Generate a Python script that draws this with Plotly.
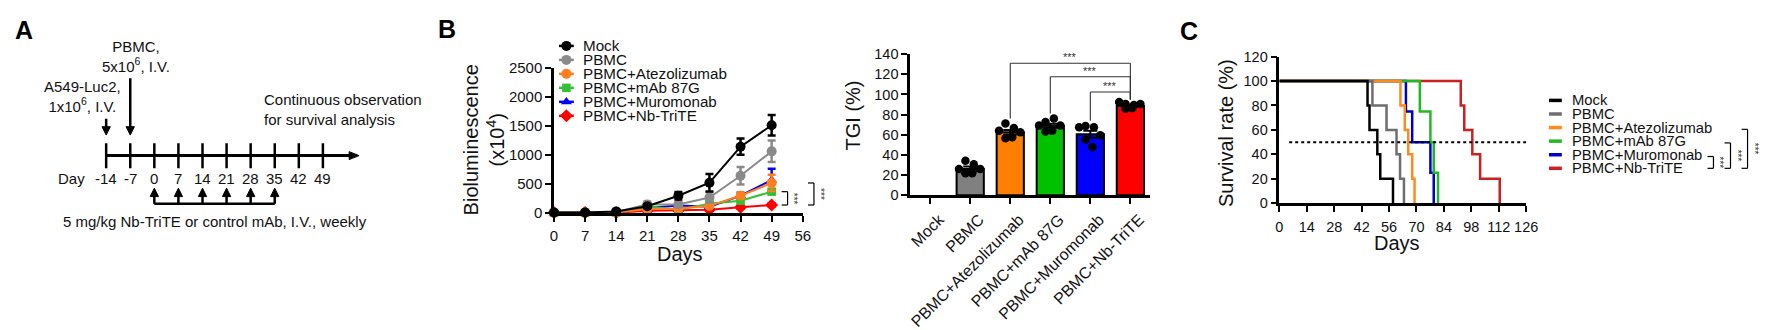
import plotly.graph_objects as go

W, H = 1776, 330
FONT = "Arial, 'Liberation Sans', Helvetica, sans-serif"
TXT = "#111111"

# ---------------- Panel A: treatment schedule ----------------
timeline_days = [-14, -7, 0, 7, 14, 21, 28, 35, 42, 49]
dosing_days = [0, 7, 14, 21, 28, 35]
tumor_day = -14
pbmc_day = -7

# ---------------- Panel B: bioluminescence ----------------
group_names = ["Mock", "PBMC", "PBMC+Atezolizumab", "PBMC+mAb 87G",
               "PBMC+Muromonab", "PBMC+Nb-TriTE"]
bli_days = [0, 7, 14, 21, 28, 35, 42, 49]
bli_mock = [10, 10, 30, 120, 300, 525, 1145, 1515]
bli_mock_sem = [5, 5, 10, 30, 65, 150, 140, 175]
bli_pbmc = [10, 10, 20, 150, 150, 270, 645, 1065]
bli_pbmc_sem = [5, 5, 10, 50, 40, 90, 150, 185]
bli_atezo = [5, 5, 10, 70, 80, 125, 300, 520]
bli_atezo_sem = [5, 5, 5, 30, 30, 30, 50, 140]
bli_mab87g = [5, 5, 10, 120, 60, 160, 215, 370]
bli_mab87g_sem = [5, 5, 5, 40, 30, 30, 40, 40]
bli_muro = [0, 0, 5, 90, 130, 110, 300, 570]
bli_muro_sem = [5, 5, 5, 30, 40, 30, 50, 195]
bli_nb = [10, 10, 5, 40, 45, 60, 100, 140]
bli_nb_sem = [5, 5, 5, 15, 20, 20, 25, 30]

# ---------------- Panel B: TGI ----------------
tgi_mean = [None, 26, 62.5, 69, 60.5, 88.5]
tgi_sem = [0, 2.5, 2.2, 2.0, 3.5, 1.0]
tgi_pbmc = [34.3, 30.8, 26.1, 26.1, 21.8, 21.8]
tgi_atezo = [71.2, 66.8, 63.9, 62.4, 56.6, 57.5]
tgi_mab87g = [72.6, 76.1, 69.1, 69.1, 63.3, 63.9]
tgi_muro = [68.8, 67.4, 67.4, 59.5, 55.2, 47.9]
tgi_nb = [90.6, 89.5, 92.4, 90.6, 85.7, 86.5]
tgi_comparisons = [(2, 5), (3, 5), (4, 5)]
tgi_bracket_levels = [131, 117.5, 102.5]

# ---------------- Panel C: survival ----------------
surv_mock_days = [45, 46, 50, 51.5, 58]
surv_mock_pct = [80, 60, 40, 20, 0]
surv_pbmc_days = [47.5, 54.7, 59.8, 61.6, 63.6]
surv_pbmc_pct = [80, 60, 40, 20, 0]
surv_atezo_days = [61.8, 64, 65.8, 67.8, 69]
surv_atezo_pct = [80, 60, 40, 20, 0]
surv_mab87g_days = [71.7, 77.1, 78.8, 81]
surv_mab87g_pct = [75, 50, 25, 0]
surv_muro_days = [64.6, 67.8, 77.1, 78.8]
surv_muro_pct = [75, 50, 25, 0]
surv_nb_days = [92.6, 94.4, 98.5, 102.5, 112.5]
surv_nb_pct = [80, 60, 40, 20, 0]
surv_comparisons = [(4, 5), (3, 5), (2, 5)]

# ---------------- styles ----------------
LINE_COLORS = ["#000000", "#8A8A8A", "#FF7F1E", "#33C033", "#0000FF", "#FF0000"]
BAR_COLORS = [None, "#808080", "#FF8000", "#00C000", "#0000FF", "#FF0000"]
SURV_COLORS = ["#000000", "#6E6E6E", "#FF8C1A", "#22B822", "#0000CC", "#CC1F1F"]
SYMBOLS = ["circle", "circle", "circle", "square", "triangle-up", "diamond"]
MSIZES = [10, 10, 10, 8.5, 9.5, 10]
JITTER = [-0.12, 0.09, -0.28, 0.25, -0.12, 0.05]

# pixel geometry of each panel
B_X = (555, 806); B_Y = (230.7, 66.8)       # line chart: (x0,x1) , (y bottom, y top)
T_X = (914.4, 1156.8); T_Y = (210.5, 51)      # bar chart
S_X = (1287, 1536); S_Y = (219.5, 53.8)       # survival
A_DAY0_PX = 151.7; A_PX_PER_DAY = 24.3 / 7    # schedule
A_W = 420

def dom_x(p): return [p[0] / W, p[1] / W]
def dom_y(p): return [(H - p[0]) / H, (H - p[1]) / H]

fig = go.Figure()
shapes = []
ann = []

def text(x, y, s, size=15, xanchor="center", yanchor="middle", angle=0, xref="x5", yref="y5",
         color=TXT, bold=False, align="center"):
    ann.append(dict(x=x, y=y, xref=xref, yref=yref, text=s, showarrow=False,
                    xanchor=xanchor, yanchor=yanchor, textangle=angle, align=align,
                    font=dict(family=FONT, size=size, color=color,
                              weight="bold" if bold else "normal")))

def seg(x0, y0, x1, y1, xref="x5", yref="y5", w=2.5, color="#000", dash="solid"):
    shapes.append(dict(type="line", x0=x0, y0=y0, x1=x1, y1=y1, xref=xref, yref=yref,
                       line=dict(color=color, width=w, dash=dash)))

def tri(pts, xref, yref):
    p = "M " + " L ".join(f"{x},{y}" for x, y in pts) + " Z"
    shapes.append(dict(type="path", path=p, xref=xref, yref=yref,
                       fillcolor="#000", line=dict(color="#000", width=1)))

# ================= Panel A =================
dpx = 1 / A_PX_PER_DAY   # days per pixel
TL_Y = 165.7
tip_day = (358.3 - A_DAY0_PX) * dpx
seg(timeline_days[0], TL_Y, tip_day - 6 * dpx, TL_Y, "x4", "y4", w=3)
tri([(tip_day, TL_Y), (tip_day - 10 * dpx, TL_Y - 4.5), (tip_day - 10 * dpx, TL_Y + 4.5)], "x4", "y4")
for d in timeline_days:
    seg(d, 151.7, d, 180, "x4", "y4", w=2.5)
    text(d, 191.7, str(d), xref="x4", yref="y4")
text(68.3, 191.7, "Day")
# injection arrows (down)
for d, ytop in [(tumor_day, 124), (pbmc_day, 78.3)]:
    seg(d, ytop, d, 134, "x4", "y4", w=2.5)
    tri([(d, 142.5), (d - 4.2 * dpx, 133), (d + 4.2 * dpx, 133)], "x4", "y4")
# dosing arrows (up)
seg(dosing_days[0], 220, dosing_days[-1], 220, "x4", "y4", w=2.5)
for d in dosing_days:
    seg(d, 220, d, 210, "x4", "y4", w=2.5)
    tri([(d, 202.5), (d - 4.2 * dpx, 212), (d + 4.2 * dpx, 212)], "x4", "y4")
text(133.3, 53.3, "PBMC,<br>5x10<sup>6</sup>, I.V.")
text(79.3, 98.8, "A549-Luc2,<br>1x10<sup>6</sup>, I.V.")
text(260, 114, "Continuous observation<br>for survival analysis", xanchor="left", align="left")
text(213.3, 240.7, "5 mg/kg Nb-TriTE or control mAb, I.V., weekly")

# panel letters
text(20, 24, "A", size=25, bold=True, color="#000")
text(447.5, 23, "B", size=25, bold=True, color="#000")
text(1196, 25, "C", size=25, bold=True, color="#000")

# ================= Panel B: line chart =================
bli_series = [bli_mock, bli_pbmc, bli_atezo, bli_mab87g, bli_muro, bli_nb]
bli_sems = [bli_mock_sem, bli_pbmc_sem, bli_atezo_sem, bli_mab87g_sem, bli_muro_sem, bli_nb_sem]
for i in reversed(range(6)):
    fig.add_trace(go.Scatter(
        x=bli_days, y=bli_series[i], mode="lines+markers", cliponaxis=False,
        line=dict(color=LINE_COLORS[i], width=2),
        marker=dict(symbol=SYMBOLS[i], size=MSIZES[i], color=LINE_COLORS[i]),
        error_y=dict(type="data", array=bli_sems[i], color=LINE_COLORS[i], thickness=2.5, width=4),
        xaxis="x", yaxis="y", showlegend=False, name=group_names[i]))

# custom compact legend (line glyph + marker glyph + text)
LB_Y0, LB_DY = 41.7, 15.8
for i, name in enumerate(group_names):
    yy = LB_Y0 + i * LB_DY
    seg(560, yy, 575, yy, w=2.5, color=LINE_COLORS[i])
    fig.add_trace(go.Scatter(x=[567.5], y=[yy], mode="markers",
                             marker=dict(symbol=SYMBOLS[i], size=MSIZES[i], color=LINE_COLORS[i]),
                             xaxis="x5", yaxis="y5", showlegend=False, hoverinfo="skip"))
    text(582, yy, name, size=15.2, xanchor="left")

def bpx(v):
    return B_Y[0] - v / 2500 * (B_Y[0] - B_Y[1])

# significance brackets at day 49
for (ga, gb), xv in [((3, 5), 790.7), ((2, 5), 817.3)]:
    ya, yb = bpx(bli_series[ga][-1]), bpx(bli_series[gb][-1])
    seg(xv, ya, xv, yb, w=1.2)
    seg(xv - 6, ya, xv, ya, w=1.2)
    seg(xv - 6, yb, xv, yb, w=1.2)
    text(xv + 6, (ya + yb) / 2, "***", size=10, angle=90, color="#333")

text(484.8, 148, "Bioluminescence<br>(x10<sup>4</sup>)", size=20, angle=-90)
text(682, 277, "Days", size=20)

# ================= Panel B: TGI bars =================
fig.add_trace(go.Bar(x=list(range(6)), y=tgi_mean, width=0.68,
                     marker=dict(color=[c or "#fff" for c in BAR_COLORS], line=dict(color="#000", width=2)),
                     error_y=dict(type="data", array=tgi_sem, color="#000", thickness=2, width=7),
                     xaxis="x2", yaxis="y2", showlegend=False))
tgi_points = [None, tgi_pbmc, tgi_atezo, tgi_mab87g, tgi_muro, tgi_nb]
for i, pts in enumerate(tgi_points):
    if pts is None:
        continue
    fig.add_trace(go.Scatter(x=[i + j for j in JITTER[:len(pts)]], y=pts, mode="markers",
                             marker=dict(color="#000", size=8.5), cliponaxis=False,
                             xaxis="x2", yaxis="y2", showlegend=False))
for (ga, gb), lvl in zip(tgi_comparisons, tgi_bracket_levels):
    seg(ga, max(tgi_points[ga]) + 5, ga, lvl, "x2", "y2", w=1.1, color="#333")
    seg(ga, lvl, gb, lvl, "x2", "y2", w=1.1, color="#333")
    seg(gb, lvl, gb, max(tgi_points[gb]) + 2.5, "x2", "y2", w=1.1, color="#333")
    ann.append(dict(x=(ga + gb) / 2, y=lvl, xref="x2", yref="y2", text="***", showarrow=False,
                    yanchor="bottom", yshift=-2, font=dict(family=FONT, size=11, color="#333")))
text(857, 120, "TGI (%)", size=20, angle=-90)

# ================= Panel C: survival =================
surv_days = [surv_mock_days, surv_pbmc_days, surv_atezo_days, surv_mab87g_days, surv_muro_days, surv_nb_days]
surv_pct = [surv_mock_pct, surv_pbmc_pct, surv_atezo_pct, surv_mab87g_pct, surv_muro_pct, surv_nb_pct]
for i in [5, 4, 3, 2, 1, 0]:
    fig.add_trace(go.Scatter(x=[0] + surv_days[i], y=[100] + surv_pct[i], mode="lines",
                             line=dict(color=SURV_COLORS[i], width=2.5, shape="hv"),
                             cliponaxis=False, xaxis="x3", yaxis="y3", showlegend=False))
seg(5, 50, 126, 50, "x3", "y3", w=2, dash="dot")

SL_Y0, SL_DY = 103.3, 15.35
for i, name in enumerate(group_names):
    yy = SL_Y0 + i * SL_DY
    seg(1559, yy, 1572, yy, w=3.5, color=SURV_COLORS[i])
    text(1580, yy, name, size=14.8, xanchor="left")
for k, (ga, gb) in enumerate(surv_comparisons):
    xv = 1725 + k * 17.2
    ya, yb = SL_Y0 + ga * SL_DY + 2, SL_Y0 + gb * SL_DY
    seg(xv, ya, xv, yb, w=1.2)
    seg(xv - 6, ya, xv, ya, w=1.2)
    seg(xv - 6, yb, xv, yb, w=1.2)
    text(xv + 6.5, (ya + yb) / 2, "***", size=10, angle=90, color="#333")

text(1233.3, 140, "Survival rate (%)", size=20, angle=-90)
text(1406, 264, "Days", size=20)

# ================= axes =================
axis_common = dict(showline=True, linecolor="#000", linewidth=2.5, ticks="outside", ticklen=6,
                   tickwidth=2.2, tickcolor="#000", showgrid=False, zeroline=False,
                   tickfont=dict(family=FONT, size=15, color=TXT), fixedrange=True)
hidden = dict(visible=False, fixedrange=True, showgrid=False, zeroline=False)

fig.update_layout(
    width=W, height=H, margin=dict(l=0, r=0, t=0, b=0),
    paper_bgcolor="white", plot_bgcolor="rgba(0,0,0,0)", showlegend=False,
    font=dict(family=FONT, color=TXT),
    xaxis=dict(axis_common, domain=dom_x(B_X), range=[0, 56], tickvals=list(range(0, 57, 7)), anchor="y",
               ticklabelstandoff=1),
    yaxis=dict(axis_common, domain=dom_y(B_Y), range=[0, 2500], tickvals=list(range(0, 2501, 500)), anchor="x"),
    xaxis2=dict(axis_common, domain=dom_x(T_X), range=[-0.5, 5.5], tickvals=list(range(6)),
                ticktext=group_names, tickangle=-45, anchor="y2", ticklabelshift=9,
                tickfont=dict(family=FONT, size=16, color=TXT)),
    yaxis2=dict(axis_common, domain=dom_y(T_Y), range=[0, 140], tickvals=list(range(0, 141, 20)), anchor="x2",
                tickfont=dict(family=FONT, size=14.5, color=TXT)),
    xaxis3=dict(axis_common, domain=dom_x(S_X), range=[0, 126], tickvals=list(range(0, 127, 14)), anchor="y3",
                tickfont=dict(family=FONT, size=14.5, color=TXT), ticklabelstandoff=3),
    yaxis3=dict(axis_common, domain=dom_y(S_Y), range=[0, 120], tickvals=list(range(0, 121, 20)), anchor="x3",
                tickfont=dict(family=FONT, size=14.5, color=TXT)),
    xaxis4=dict(hidden, domain=[0, A_W / W], anchor="y4",
                range=[(0 - A_DAY0_PX) * dpx, (A_W - A_DAY0_PX) * dpx]),
    yaxis4=dict(hidden, domain=[0, 1], range=[H, 0], anchor="x4"),
    xaxis5=dict(hidden, domain=[0, 1], range=[0, W], anchor="y5"),
    yaxis5=dict(hidden, domain=[0, 1], range=[H, 0], anchor="x5"),
    shapes=shapes, annotations=ann,
)

fig.write_html("out.html")
